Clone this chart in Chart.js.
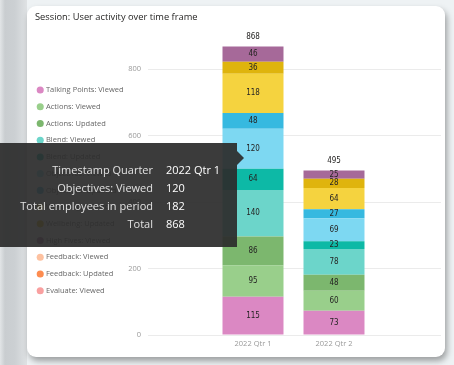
<!DOCTYPE html>
<html>
<head>
<meta charset="utf-8">
<script src="https://cdn.jsdelivr.net/npm/chart.js@4.4.1/dist/chart.umd.min.js"></script>
<style>
  html, body { margin: 0; padding: 0; }
  body {
    width: 454px; height: 365px; overflow: hidden; position: relative;
    background: #eef2f4;
    font-family: "Segoe UI", "Open Sans", sans-serif;
  }
  #strip {
    position: absolute; left: 0; top: 0; width: 27px; height: 365px;
    background: linear-gradient(to right, #e2e5e7 0px, #c9cdd0 5px, #ccd0d3 15px, #dfe2e4 27px);
  }
  #card {
    position: absolute; left: 27px; top: 6px; width: 418px; height: 351px;
    background: #fff; border-radius: 9px;
    box-shadow: 2px 4px 6px rgba(0, 0, 0, 0.35);
  }
  #title {
    position: absolute; left: 8px; top: 4px;
    font-size: 9.3px; line-height: 14px; color: #252423;
  }
  #chart { position: absolute; left: 0; top: 0; }
  #tip {
    position: absolute; left: 0; top: 143px; width: 237px; height: 104px;
    background: rgba(44, 44, 44, 0.93);
    font-size: 11px; line-height: 17.8px;
  }
  #tip .row { position: absolute; left: 0; width: 237px; height: 17.8px; }
  #tip .k { position: absolute; right: 84px; color: #e2e2e2; white-space: nowrap; }
  #tip .v { position: absolute; left: 166px; color: #fff; white-space: nowrap; }
  #caret {
    position: absolute; left: 237px; top: 151px; width: 0; height: 0;
    border-top: 7px solid transparent; border-bottom: 7px solid transparent;
    border-left: 7px solid rgba(44, 44, 44, 0.93);
  }
</style>
</head>
<body>
<div id="strip"></div>
<div id="card">
  <canvas id="chart" width="418" height="351"></canvas>
  <div id="title">Session: User activity over time frame</div>
</div>
<div id="tip"></div>
<div id="caret"></div>
<script>
const categories = ['2022 Qtr 1', '2022 Qtr 2'];

const seriesNames = [
  'Talking Points: Viewed', 'Actions: Viewed', 'Actions: Updated',
  'Blend: Viewed', 'Blend: Updated', 'Objectives: Viewed', 'Objectives: Updated',
  'Wellbeing: Viewed', 'Wellbeing: Updated', 'High Fives: Viewed',
  'Feedback: Viewed', 'Feedback: Updated', 'Evaluate: Viewed'
];

const seriesColors = [
  '#db88c3', '#99cf8b', '#7cb76e',
  '#6cd5ca', '#0db9a6', '#7dd8f2', '#36b9e0',
  '#f5d33f', '#dfb40d', '#a66999',
  '#fdc1a0', '#fd8c50', '#f9a0a0'
];

// one entry per series, same order as seriesNames
const qtr1Values = [115, 95, 86, 140, 64, 120, 48, 118, 36, 46, 0, 0, 0];
const qtr2Values = [73, 60, 48, 78, 23, 69, 27, 64, 28, 25, 0, 0, 0];

const yTicks = [0, 200, 400, 600, 800];
const yMax = 918;

const tipRows = [
  ['Timestamp Quarter', '2022 Qtr 1'],
  ['Objectives: Viewed', '120'],
  ['Total employees in period', '182'],
  ['Total', '868']
];

const FONT = '"Segoe UI", "Open Sans", sans-serif';
const LABEL_FONT = '"DejaVu Sans Condensed", "Liberation Sans Narrow", sans-serif';

// values inside segments + totals on top
const barLabels = {
  id: 'barLabels',
  afterDatasetsDraw(chart) {
    const ctx = chart.ctx;
    ctx.save();
    ctx.font = '8px ' + LABEL_FONT;
    ctx.fillStyle = '#252423';
    ctx.textAlign = 'center';
    ctx.textBaseline = 'middle';
    chart.data.datasets.forEach((ds, i) => {
      chart.getDatasetMeta(i).data.forEach((bar, j) => {
        const v = ds.data[j].y;
        if (!v) return;
        ctx.fillText(v, bar.x, (bar.y + bar.base) / 2);
      });
    });
    categories.forEach((c, j) => {
      const total = chart.data.datasets.reduce((s, ds) => s + (ds.data[j].y || 0), 0);
      const y = chart.scales.y.getPixelForValue(total);
      ctx.fillText(total, chart.scales.x.getPixelForValue(j + 1), y - 9);
    });
    ctx.restore();
  }
};

const datasets = seriesNames.map((name, i) => ({
  label: name,
  data: categories.map((c, j) => ({ x: j + 1, y: [qtr1Values, qtr2Values][j][i] })),
  backgroundColor: seriesColors[i],
  borderWidth: 0,
  stack: 's',
  categoryPercentage: 1,
  barPercentage: 0.753
}));

const PAD_LEFT = 2;
const AREA_LEFT = 121;

new Chart(document.getElementById('chart'), {
  type: 'bar',
  data: { datasets },
  plugins: [barLabels],
  options: {
    responsive: false,
    animation: false,
    events: [],
    layout: { padding: { left: PAD_LEFT, top: 23.77, right: 4, bottom: 6 } },
    scales: {
      x: {
        type: 'linear',
        stacked: true,
        offset: false,
        min: -0.2963,
        max: 3.321,
        grid: { display: false, drawTicks: false },
        border: { display: false },
        afterBuildTicks: s => { s.ticks = categories.map((c, j) => ({ value: j + 1 })); },
        afterFit: s => { s.height = 16; },
        ticks: {
          callback: (v, i) => categories[i],
          font: { family: FONT, size: 7.5 },
          color: '#999',
          padding: 4,
          maxRotation: 0,
          autoSkip: false
        }
      },
      y: {
        stacked: true,
        min: 0,
        max: yMax,
        grid: { color: '#ebebeb', drawTicks: false },
        border: { display: false },
        afterBuildTicks: s => { s.ticks = yTicks.map(v => ({ value: v })); },
        afterFit: s => { s.width = AREA_LEFT - PAD_LEFT - s.chart.legend.width; },
        ticks: {
          font: { family: FONT, size: 7.5 },
          color: '#999',
          padding: 7
        }
      }
    },
    plugins: {
      tooltip: { enabled: false },
      legend: {
        position: 'left',
        maxWidth: 98,
        labels: {
          usePointStyle: true,
          pointStyle: 'circle',
          boxWidth: 4,
          boxHeight: 5,
          padding: 9.23,
          color: '#666',
          font: { family: FONT, size: 7.5 }
        }
      }
    }
  }
});

// hover card
const tip = document.getElementById('tip');
tip.innerHTML = tipRows.map((r, i) =>
  `<div class="row" style="top:${18.1 + i * 17.8}px"><span class="k">${r[0]}</span><span class="v">${r[1]}</span></div>`
).join('');
</script>
</body>
</html>
